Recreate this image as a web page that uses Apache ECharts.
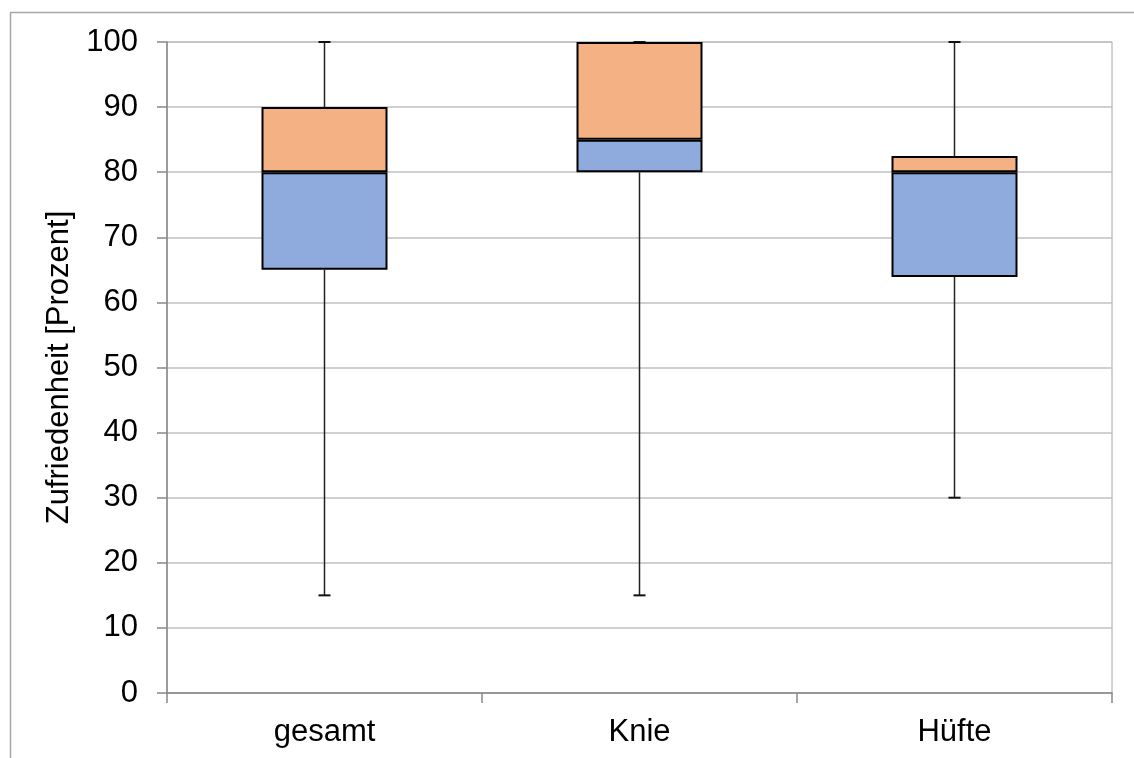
<!DOCTYPE html>
<html><head><meta charset="utf-8">
<script src="https://cdn.jsdelivr.net/npm/echarts@6/dist/echarts.min.js"></script>
<style>html,body{margin:0;padding:0;background:#fff}#c{width:1134px;height:758px}</style>
</head><body><div id="c"></div>
<script>
const categories = ['gesamt', 'Knie', 'Hüfte'];
const minVals = [15, 15, 30];
const q1Vals = [65, 80, 63.9];
const medianVals = [80, 85, 80];
const q3Vals = [90, 100, 82.5];
const maxVals = [100, 100, 100];
const yTicks = [0, 10, 20, 30, 40, 50, 60, 70, 80, 90, 100];

const FONT = 'Liberation Sans, Arial, sans-serif';
const chart = echarts.init(document.getElementById('c'), null, {renderer: 'canvas'});

function whisker(params, api) {
  const x = api.value(0);
  const lo = api.coord([x, api.value(1)]);
  const hi = api.coord([x, api.value(2)]);
  const capPx = 6;
  const end = api.value(3) === 1 ? hi : lo;
  return {
    type: 'group',
    children: [
      {type: 'line', shape: {x1: lo[0], y1: lo[1], x2: hi[0], y2: hi[1]}, style: {stroke: '#222', lineWidth: 1.5}},
      {type: 'line', shape: {x1: end[0] - capPx, y1: end[1], x2: end[0] + capPx, y2: end[1]}, style: {stroke: '#111', lineWidth: 2}}
    ]
  };
}

const lowerWhiskers = categories.map((c, i) => [i, minVals[i], q1Vals[i], 0]);
const upperWhiskers = categories.map((c, i) => [i, q3Vals[i], maxVals[i], 1]);

chart.setOption({
  animation: false,
  graphic: [{
    type: 'rect', left: 8, top: 10, z: -10,
    shape: {x: 0, y: 0, width: 1140, height: 800},
    style: {fill: 'none', stroke: '#a6a6a6', lineWidth: 1.5}
  }],
  grid: {left: 167, right: 22, top: 42, bottom: 65, show: true, borderColor: '#a6a6a6', borderWidth: 1, backgroundColor: 'transparent'},
  xAxis: {
    type: 'category', data: categories, boundaryGap: true,
    axisLine: {show: true, lineStyle: {color: '#888', width: 1.5}},
    axisTick: {show: true, length: 10, alignWithLabel: false, lineStyle: {color: '#888', width: 1.5}},
    axisLabel: {color: '#000', fontFamily: FONT, fontSize: 31, margin: 24},
    splitLine: {show: false}
  },
  yAxis: {
    type: 'value', min: 0, max: 100, interval: 10,
    name: 'Zufriedenheit [Prozent]', nameLocation: 'middle', nameGap: 87,
    nameTextStyle: {color: '#000', fontFamily: FONT, fontSize: 31},
    axisLine: {show: true, lineStyle: {color: '#888', width: 1.5}},
    axisTick: {show: true, length: 10, lineStyle: {color: '#888', width: 1.5}},
    axisLabel: {color: '#000', fontFamily: FONT, fontSize: 31, margin: 29,
      formatter: v => yTicks.includes(v) ? String(v) : ''},
    splitLine: {show: true, lineStyle: {color: '#c0c0c0', width: 1.5}}
  },
  series: [
    {type: 'bar', stack: 'box', data: q1Vals, barWidth: '40%', itemStyle: {color: 'transparent'}, silent: true},
    {type: 'bar', stack: 'box', data: medianVals.map((m, i) => +(m - q1Vals[i]).toFixed(3)), barWidth: '40%',
      itemStyle: {color: '#8FAADC', borderColor: '#000', borderWidth: 2}},
    {type: 'bar', stack: 'box', data: q3Vals.map((q, i) => +(q - medianVals[i]).toFixed(3)), barWidth: '40%',
      itemStyle: {color: '#F4B183', borderColor: '#000', borderWidth: 2}},
    {type: 'custom', renderItem: whisker, data: lowerWhiskers, encode: {x: 0, y: [1, 2]}, z: 1},
    {type: 'custom', renderItem: whisker, data: upperWhiskers, encode: {x: 0, y: [1, 2]}, z: 1}
  ]
});
</script>
</body></html>
